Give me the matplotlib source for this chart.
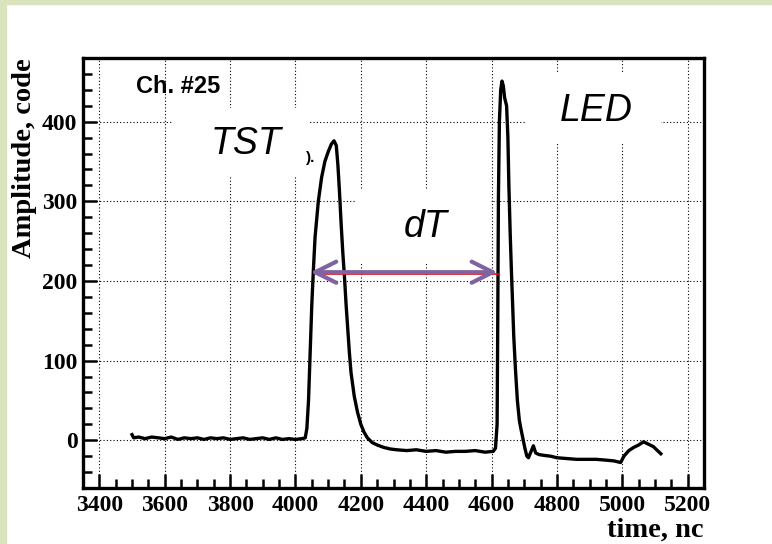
import matplotlib
matplotlib.use("Agg")
import matplotlib.pyplot as plt
from matplotlib.ticker import MultipleLocator
from matplotlib.patches import Rectangle

# waveform samples: time (nc), amplitude (code)
time_nc = [3500, 3505, 3520, 3540, 3560, 3580, 3600, 3620, 3640, 3660, 3680, 3700,
           3720, 3740, 3760, 3780, 3800, 3820, 3840, 3860, 3880, 3900, 3920, 3940,
           3960, 3980, 4000, 4020, 4030,
           4035, 4040, 4045, 4050, 4055, 4060, 4070, 4080, 4090, 4100, 4110, 4118,
           4125, 4130, 4135, 4140, 4145, 4150, 4155, 4160, 4165, 4170, 4180, 4190,
           4200, 4210, 4220, 4235, 4250, 4270, 4290, 4310, 4340, 4370, 4400, 4430,
           4460, 4490, 4520, 4550, 4580, 4605, 4612,
           4617, 4619, 4621, 4624, 4628, 4632, 4636, 4640, 4646, 4650, 4653, 4657,
           4661, 4664, 4668, 4673, 4679, 4685, 4690, 4696, 4702, 4708, 4713, 4720,
           4728, 4735, 4745, 4760, 4780, 4800, 4830, 4860, 4890, 4920, 4950, 4975,
           4995, 5005, 5020, 5035, 5050, 5065, 5075, 5085, 5095, 5105, 5118]
amplitude = [7, 3, 4, 2, 4, 3, 2, 4, 1, 3, 2, 3,
             1, 3, 2, 3, 1, 2, 3, 1, 2, 3, 1, 3,
             1, 2, 1, 2, 3,
             15, 50, 110, 170, 215, 255, 300, 330, 350, 362, 372, 376,
             370, 345, 310, 270, 235, 205, 170, 140, 110, 85, 55, 35,
             20, 10, 3, -3, -6, -9, -11, -12, -13, -12, -14, -13,
             -15, -14, -14, -13, -15, -14, -10,
             20, 150, 305, 400, 440, 451, 445, 430, 420, 380, 320, 260,
             210, 176, 130, 90, 50, 25, 14, 2, -10, -20, -22, -15,
             -7, -16, -18, -19, -20, -22, -23, -24, -24, -24, -25, -26,
             -28, -20, -13, -9, -6, -2, -4, -6, -8, -12, -17]

xlim = (3350, 5250)
ylim = (-60, 480)
x_ticks = [3400, 3600, 3800, 4000, 4200, 4400, 4600, 4800, 5000, 5200]
y_ticks = [0, 100, 200, 300, 400]

serif = 'Liberation Serif'
sans = 'Liberation Sans'

fig = plt.figure(figsize=(7.72, 5.44), dpi=100)
fig.patch.set_facecolor('white')
# light green frame on left and top
fig.patches.append(Rectangle((0, 0), 6 / 772, 1, transform=fig.transFigure,
                             color='#d9e4bf', zorder=0))
fig.patches.append(Rectangle((0, 1 - 4 / 544), 1, 4 / 544, transform=fig.transFigure,
                             color='#d9e4bf', zorder=0))

ax = fig.add_axes([83 / 772, 56 / 544, 621 / 772, 430 / 544])
ax.plot(time_nc, amplitude, color='black', lw=2.4, zorder=3)

ax.set_xlim(*xlim)
ax.set_ylim(*ylim)
ax.set_xticks(x_ticks)
ax.set_yticks(y_ticks)
ax.xaxis.set_minor_locator(MultipleLocator(50))
ax.yaxis.set_minor_locator(MultipleLocator(20))
ax.tick_params(which='both', direction='in', top=False, right=False, width=1.8)
ax.tick_params(which='major', length=10)
ax.tick_params(which='minor', length=6.5)
ax.tick_params(axis='x', pad=5)
ax.tick_params(axis='y', pad=4)
for lab in ax.get_xticklabels() + ax.get_yticklabels():
    lab.set_fontfamily(serif)
    lab.set_fontweight('bold')
    lab.set_fontsize(17)
for sp in ax.spines.values():
    sp.set_linewidth(2.4)

ax.grid(True, which='major', color='black', linestyle=(0, (1, 2)), lw=0.8)
ax.set_axisbelow(True)

ax.set_xlabel('time, nc', fontfamily=serif, fontweight='bold', fontsize=20.5,
              loc='right', labelpad=1)
ax.set_ylabel('Amplitude, code', fontfamily=serif, fontweight='bold', fontsize=20.5,
              loc='top', labelpad=4)

# text overlays (white boxes hide the grid like in the slide)
ax.add_patch(Rectangle((3626, 330), 4045 - 3626, 417 - 330, facecolor='white',
                       edgecolor='none', zorder=2))
ax.add_patch(Rectangle((4184, 224), 4597 - 4184, 314 - 224, facecolor='white',
                       edgecolor='none', zorder=2))
ax.add_patch(Rectangle((4704, 372), 5117 - 4704, 461 - 372, facecolor='white',
                       edgecolor='none', zorder=2))
ax.text(4033, 349, ').', fontsize=11, fontweight='bold', fontfamily=sans, zorder=4)

ax.text(3513, 436, 'Ch. #25', fontfamily=sans, fontweight='bold', fontsize=17,
        zorder=4)
ax.text(3850, 359, 'TST', fontfamily=sans, style='italic', fontsize=27,
        ha='center', va='baseline', zorder=4)
ax.text(4398, 255, 'dT', fontfamily=sans, style='italic', fontsize=27,
        ha='center', va='baseline', zorder=4)
ax.text(4921, 401, 'LED', fontfamily=sans, style='italic', fontsize=27,
        ha='center', va='baseline', zorder=4)

ax.plot([4075, 4620], [208.5, 208.5], color='red', lw=1.2, zorder=4)
ax.annotate('', xy=(4618, 211), xytext=(4046, 211),
            arrowprops=dict(arrowstyle='<->', color='#8064a2', lw=3,
                            mutation_scale=38, shrinkA=0, shrinkB=0),
            zorder=5)

fig.savefig('out.png', dpi=100)
